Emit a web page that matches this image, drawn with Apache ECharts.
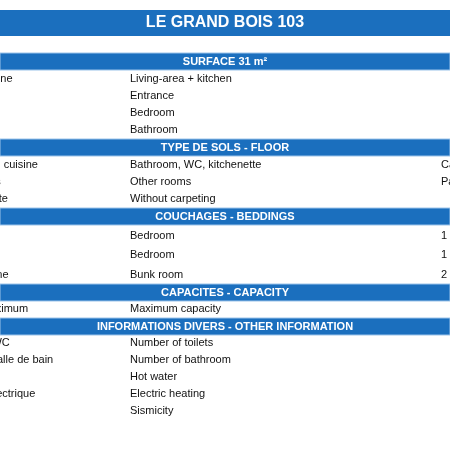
<!DOCTYPE html>
<html><head><meta charset="utf-8">
<script src="https://cdn.jsdelivr.net/npm/echarts@6/dist/echarts.min.js"></script>
<style>html,body{margin:0;padding:0;background:#fff}#c{width:450px;height:450px}</style>
</head><body><div id="c"></div>
<script>
const title = "LE GRAND BOIS 103";
const sectionTitles = ["SURFACE 31 m²","TYPE DE SOLS - FLOOR","COUCHAGES - BEDDINGS","CAPACITES - CAPACITY","INFORMATIONS DIVERS - OTHER INFORMATION"];
const sectionY = [53,139,208,284,318];
const rowsFr = [
 ["Séjour + cuisine","Entrée","Chambre","Salle de bain"],
 ["Salle de bain, cuisine","Autres pièces","Sans moquette"],
 ["Chambre","Chambre","Coin montagne"],
 ["Capacité maximum"],
 ["Nombre de WC","Nombre de salle de bain","Eau chaude","Chauffage électrique","Sismicité"]
];
const rowsEn = [
 ["Living-area + kitchen","Entrance","Bedroom","Bathroom"],
 ["Bathroom, WC, kitchenette","Other rooms","Without carpeting"],
 ["Bedroom","Bedroom","Bunk room"],
 ["Maximum capacity"],
 ["Number of toilets","Number of bathroom","Hot water","Electric heating","Sismicity"]
];
const rowsVal = [
 ["","","",""],
 ["Carrelage","Parquet",""],
 ["1 lit double","1 lit simple","2 lits superposés"],
 [""],
 ["","","","",""]
];
const rowY = [[79,96,113,130],[165,182,199],[236,255,275],[309],[343,360,377,394,411]];

const blue = "#1b6fbe";
const font = "Liberation Sans, Arial, sans-serif";
const g = [];
g.push({type:'rect',shape:{x:0,y:10,width:450,height:26},style:{fill:blue}});
g.push({type:'text',x:225,y:23,style:{text:title,fill:'#fff',font:'bold 16px '+font,align:'center',verticalAlign:'middle'}});
sectionTitles.forEach((t,i)=>{
  const y = sectionY[i];
  g.push({type:'rect',shape:{x:0,y:y,width:450,height:17},style:{fill:blue,stroke:'#9cc4ea',lineWidth:1}});
  g.push({type:'text',x:225,y:y+9,style:{text:t,fill:'#fff',font:'bold 11px '+font,align:'center',verticalAlign:'middle'}});
  rowsEn[i].forEach((en,j)=>{
    const ry = rowY[i][j];
    g.push({type:'text',x:-66,y:ry,style:{text:rowsFr[i][j],fill:'#111',font:'11px '+font,verticalAlign:'middle'}});
    g.push({type:'text',x:130,y:ry,style:{text:en,fill:'#111',font:'11px '+font,verticalAlign:'middle'}});
    g.push({type:'text',x:441,y:ry,style:{text:rowsVal[i][j],fill:'#111',font:'11px '+font,verticalAlign:'middle'}});
  });
});
const chart = echarts.init(document.getElementById('c'));
chart.setOption({animation:false,graphic:g});
</script></body></html>
